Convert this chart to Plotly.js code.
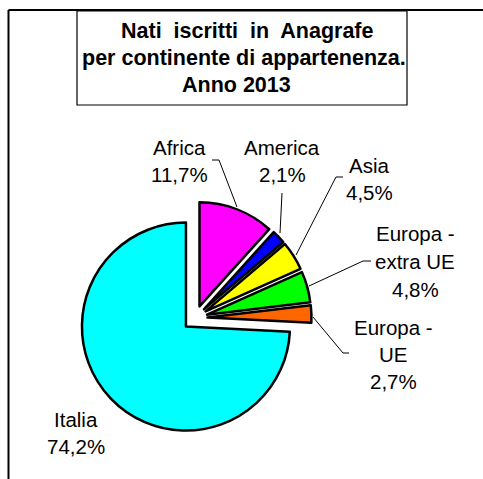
<!DOCTYPE html>
<html>
<head>
<meta charset="utf-8">
<script src="https://cdn.plot.ly/plotly-3.0.1.min.js"></script>
<style>html,body{margin:0;padding:0;background:#fff;}#chart{width:483px;height:479px;}</style>
</head>
<body>
<div id="chart"></div>
<script>
// ---- data ----
var categories = ["Africa", "America", "Asia", "Europa - extra UE", "Europa - UE", "Italia"];
var values = [11.7, 2.1, 4.5, 4.8, 2.7, 74.2];
var colors = ["#FF00FF", "#0000FF", "#FFFF00", "#00FF00", "#FF6600", "#00FFFF"];
var labelLines = [["Africa"], ["America"], ["Asia"], ["Europa -", "extra UE"], ["Europa -", "UE"], ["Italia"]];
var titleLines = ["Nati  iscritti  in  Anagrafe", "per continente di appartenenza.", "Anno 2013"];

// ---- layout helpers (pixels -> paper) ----
var W = 483, H = 479;
function px(x) { return x / W; }
function py(y) { return 1 - y / H; }

var total = values.reduce(function (a, b) { return a + b; }, 0);
function pct(v) { return (v / total * 100).toFixed(1).replace('.', ',') + '%'; }

// label anchor positions (pixel centres of first line) and line spacing
var labelPos = [
  {x: 179, y: 147, dy: 28},
  {x: 282, y: 147, dy: 28},
  {x: 369, y: 165, dy: 27},
  {x: 415, y: 233, dy: 28},
  {x: 393, y: 327, dy: 27},
  {x: 76, y: 419, dy: 27}
];
var leaders = [
  [[212, 160], [219, 160], [237, 207]],
  [[282, 193], [280, 233]],
  [[343, 177], [336, 177], [296, 255]],
  [[371, 261], [363, 261], [309, 286]],
  [[313, 317], [343, 353], [349, 353]],
  []
];

var annotations = [];
var fontLbl = {family: "Liberation Sans, Arial, sans-serif", size: 20.5, color: "#000"};
categories.forEach(function (c, i) {
  var lines = labelLines[i].concat([pct(values[i])]);
  lines.forEach(function (t, k) {
    annotations.push({
      xref: 'paper', yref: 'paper', x: px(labelPos[i].x), y: py(labelPos[i].y + k * labelPos[i].dy),
      text: t, showarrow: false, xanchor: 'center', yanchor: 'middle', font: fontLbl
    });
  });
});
var titleX = [247, 244, 236], titleY = [31, 58, 85];
titleLines.forEach(function (t, k) {
  annotations.push({
    xref: 'paper', yref: 'paper', x: px(titleX[k]), y: py(titleY[k]),
    text: '<b>' + t + '</b>', showarrow: false, xanchor: 'center', yanchor: 'middle',
    font: {family: "Liberation Sans, Arial, sans-serif", size: 21.5, color: "#000"}
  });
});

var shapes = [
  {type: 'line', xref: 'paper', yref: 'paper', x0: px(8.5), x1: px(8.5), y0: py(10), y1: py(490), line: {color: '#000', width: 2}},
  {type: 'line', xref: 'paper', yref: 'paper', x0: px(8.5), x1: px(495), y0: py(10), y1: py(10), line: {color: '#000', width: 2}},
  {type: 'rect', xref: 'paper', yref: 'paper', x0: px(77), x1: px(407), y0: py(11), y1: py(105), line: {color: '#000', width: 1.2}, fillcolor: 'rgba(0,0,0,0)'}
];
leaders.forEach(function (pts) {
  if (pts.length < 2) return;
  var path = pts.map(function (p, k) { return (k ? 'L' : 'M') + px(p[0]) + ',' + py(p[1]); }).join(' ');
  shapes.push({type: 'path', xref: 'paper', yref: 'paper', path: path, line: {color: '#000', width: 1}});
});

// pie geometry: centre (195,318), radius 104, pull 0.12
var pull = 0.12, R = 104, cx = 195, cy = 318;
var half = R * (1 + pull);

var trace = {
  type: 'pie',
  labels: categories,
  values: values,
  sort: false,
  direction: 'clockwise',
  rotation: 0,
  pull: pull,
  textinfo: 'none',
  hoverinfo: 'label+percent',
  marker: {colors: colors, line: {color: '#000', width: 2.5}},
  domain: {x: [px(cx - half), px(cx + half)], y: [py(cy + half), py(cy - half)]},
  showlegend: false
};

var layout = {
  width: W, height: H,
  margin: {l: 0, r: 0, t: 0, b: 0},
  paper_bgcolor: '#fff',
  showlegend: false,
  separators: ',.',
  annotations: annotations,
  shapes: shapes
};

Plotly.newPlot('chart', [trace], layout, {displayModeBar: false, staticPlot: true});
</script>
</body>
</html>
